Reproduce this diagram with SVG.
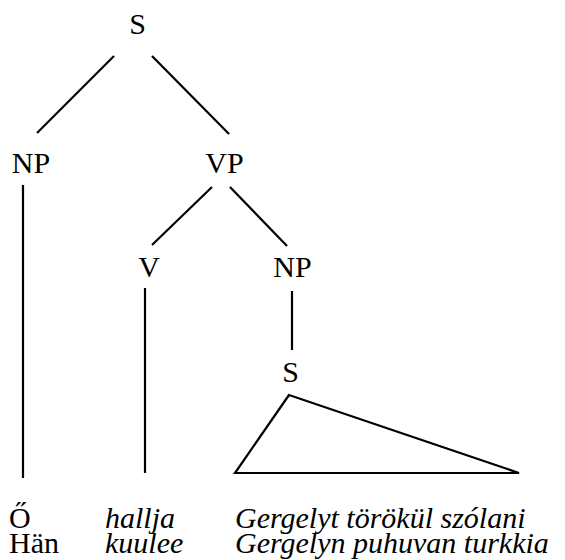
<svg xmlns="http://www.w3.org/2000/svg" width="565" height="560" viewBox="0 0 565 560">
<style>
.lbl{font-family:"Liberation Serif","DejaVu Serif",serif;font-size:30px;fill:#000;text-anchor:middle}
.w{font-family:"Liberation Serif","DejaVu Serif",serif;font-size:30px;fill:#000}
.it{font-style:italic}
.ln{stroke:#000;stroke-width:2.2;fill:none;stroke-linecap:butt;stroke-linejoin:miter}
</style>
<rect width="565" height="560" fill="#fff"/>
<g id="connectors">
<line class="ln" x1="114" y1="56" x2="37" y2="133"/>
<line class="ln" x1="152" y1="56" x2="229" y2="134"/>
<line class="ln" x1="23" y1="185" x2="23" y2="478"/>
<line class="ln" x1="212" y1="187" x2="152" y2="245"/>
<line class="ln" x1="230" y1="187" x2="287" y2="246"/>
<line class="ln" x1="145" y1="288" x2="145" y2="473"/>
<line class="ln" x1="292" y1="291" x2="292" y2="350"/>
</g>
<g id="node-S"><text class="lbl" x="137.5" y="34">S</text></g>
<g id="node-NP1"><text class="lbl" x="31" y="173">NP</text></g>
<g id="node-VP"><text class="lbl" x="224.5" y="173">VP</text></g>
<g id="node-V"><text class="lbl" x="149" y="277">V</text></g>
<g id="node-NP2"><text class="lbl" x="292.5" y="277">NP</text></g>
<g id="node-S2"><text class="lbl" x="290.5" y="382">S</text></g>
<g id="triangle"><polygon class="ln" points="289,395 235,473 519,473"/></g>
<g id="words">
<text class="w" x="9" y="528">Ő</text>
<text class="w" x="9" y="553">Hän</text>
<text class="w it" x="105" y="528">hallja</text>
<text class="w it" x="105" y="553">kuulee</text>
<text class="w it" x="235" y="528">Gergelyt törökül szólani</text>
<text class="w it" x="235" y="553">Gergelyn puhuvan turkkia</text>
</g>
</svg>
